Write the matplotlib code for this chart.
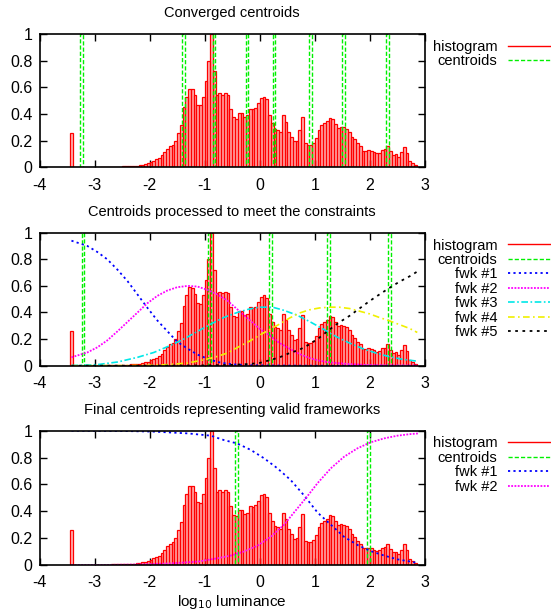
import matplotlib
matplotlib.use('Agg')
import matplotlib.pyplot as plt
from matplotlib.lines import Line2D
import numpy as np

plt.rcParams['font.family'] = ['Liberation Sans', 'DejaVu Sans']
plt.rcParams['axes.unicode_minus'] = False

# ---------------- data ----------------
titles = ["Converged centroids",
          "Centroids processed to meet the constraints",
          "Final centroids representing valid frameworks"]
x_ticks = [-4, -3, -2, -1, 0, 1, 2, 3]
x_tick_labels = ["-4", "-3", "-2", "-1", "0", "1", "2", "3"]
y_ticks = [0, 0.2, 0.4, 0.6, 0.8, 1.0]
y_tick_labels = ["0", "0.2", "0.4", "0.6", "0.8", "1"]

bin_width = 0.05
lone_bin_left = [-3.45]
lone_bin_val = [0.26]
bin_left = np.round(np.arange(-2.90, 2.849, bin_width), 2)
hist_vals = [
    0.002, 0.002, 0.003, 0.003, 0.004, 0.004, 0.005, 0.006, 0.007, 0.008,
    0.009, 0.010, 0.011, 0.013, 0.015, 0.020, 0.025, 0.030, 0.040, 0.050,
    0.060, 0.070, 0.090, 0.115, 0.140, 0.160, 0.170, 0.200, 0.260, 0.320,
    0.450, 0.530, 0.590, 0.585, 0.540, 0.470, 0.465, 0.530, 0.645, 0.800,
    1.000, 0.720, 0.545, 0.555, 0.545, 0.555, 0.545, 0.440, 0.375, 0.365,
    0.410, 0.410, 0.380, 0.390, 0.440, 0.435, 0.445, 0.480, 0.520, 0.530,
    0.510, 0.390, 0.330, 0.290, 0.280, 0.265, 0.390, 0.340, 0.265, 0.230,
    0.195, 0.200, 0.280, 0.380, 0.180, 0.170, 0.170, 0.185, 0.220, 0.280,
    0.315, 0.330, 0.345, 0.370, 0.365, 0.325, 0.295, 0.305, 0.300, 0.290,
    0.265, 0.230, 0.210, 0.180, 0.160, 0.125, 0.125, 0.130, 0.125, 0.115,
    0.105, 0.110, 0.130, 0.135, 0.160, 0.120, 0.095, 0.100, 0.080, 0.115,
    0.155, 0.110, 0.045, 0.030, 0.015]

centroids_1 = [-3.24, -1.39, -0.83, -0.23, 0.26, 0.92, 1.52, 2.32]
centroids_2 = [-3.21, -0.91, 0.20, 1.25, 2.35]
centroids_3 = [-0.42, 1.98]

# panel 2 frameworks
p2_fwk1_x = [-3.42, -3.13, -2.95, -2.77, -2.58, -2.40, -2.22, -2.04, -1.86, -1.68, -1.50,
             -1.31, -1.13, -0.95, -0.77, -0.59, -0.41, -0.19, 0.10, 0.50, 1.00, 1.50, 2.00, 2.50, 2.86]
p2_fwk1_y = [0.94, 0.90, 0.855, 0.80, 0.72, 0.635, 0.535, 0.435, 0.34, 0.26, 0.18,
             0.128, 0.083, 0.053, 0.028, 0.015, 0.008, 0.004, 0.002, 0.001, 0.0, 0.0, 0.0, 0.0, 0.0]
p2_fwk2_x = [-3.42, -3.13, -2.95, -2.77, -2.58, -2.40, -2.22, -2.04, -1.86, -1.68, -1.50,
             -1.31, -1.13, -0.95, -0.77, -0.59, -0.37, -0.19, -0.01, 0.17, 0.36, 0.54, 0.72,
             0.90, 1.08, 1.26, 1.63, 1.99, 2.40, 2.86]
p2_fwk2_y = [0.063, 0.10, 0.138, 0.19, 0.26, 0.33, 0.40, 0.47, 0.525, 0.565, 0.59,
             0.60, 0.595, 0.57, 0.535, 0.49, 0.41, 0.345, 0.28, 0.23, 0.17, 0.128, 0.088,
             0.058, 0.038, 0.025, 0.012, 0.005, 0.002, 0.001]
p2_fwk3_x = [-3.42, -3.26, -2.95, -2.58, -2.22, -1.92, -1.62, -1.38, -1.13, -0.89, -0.65,
             -0.41, -0.20, -0.01, 0.23, 0.41, 0.66, 0.90, 1.14, 1.38, 1.63, 1.87, 2.11,
             2.35, 2.59, 2.86]
p2_fwk3_y = [0.002, 0.003, 0.008, 0.028, 0.063, 0.10, 0.153, 0.20, 0.258, 0.313, 0.363,
             0.40, 0.425, 0.44, 0.44, 0.42, 0.383, 0.333, 0.278, 0.22, 0.17, 0.128, 0.095,
             0.068, 0.048, 0.034]
p2_fwk4_x = [-3.42, -2.50, -2.00, -1.68, -1.31, -0.95, -0.77, -0.59, -0.37, -0.19, -0.01,
             0.17, 0.36, 0.54, 0.72, 0.90, 1.08, 1.26, 1.44, 1.63, 1.81, 1.99, 2.17, 2.35,
             2.53, 2.72, 2.86]
p2_fwk4_y = [0.0, 0.001, 0.003, 0.008, 0.02, 0.05, 0.07, 0.095, 0.145, 0.183, 0.228,
             0.27, 0.313, 0.358, 0.396, 0.42, 0.434, 0.44, 0.44, 0.43, 0.41, 0.39, 0.363,
             0.338, 0.31, 0.28, 0.25]
p2_fwk5_x = [-3.42, -2.00, -1.00, -0.50, -0.19, -0.01, 0.17, 0.36, 0.54, 0.72, 0.90, 1.08,
             1.26, 1.44, 1.63, 1.81, 1.99, 2.17, 2.35, 2.53, 2.72, 2.86]
p2_fwk5_y = [0.0, 0.0, 0.002, 0.006, 0.013, 0.02, 0.04, 0.063, 0.095, 0.12, 0.16, 0.21,
             0.27, 0.325, 0.375, 0.43, 0.485, 0.535, 0.584, 0.63, 0.672, 0.708]

# panel 3 frameworks
p3_fwk1_x = [-3.42, -2.50, -1.92, -1.31, -0.89, -0.65, -0.41, -0.16, 0.08, 0.32, 0.56, 0.80,
             1.05, 1.29, 1.53, 1.77, 2.01, 2.26, 2.50, 2.74, 2.87]
p3_fwk1_y = [1.0, 0.998, 0.993, 0.98, 0.963, 0.93, 0.905, 0.856, 0.794, 0.72, 0.633, 0.52,
             0.39, 0.30, 0.21, 0.15, 0.104, 0.07, 0.042, 0.025, 0.015]
p3_fwk2_x = [-3.42, -2.83, -2.20, -1.62, -1.13, -0.77, -0.53, -0.29, -0.04, 0.20, 0.44, 0.68,
             0.86, 1.05, 1.29, 1.53, 1.77, 2.01, 2.26, 2.50, 2.74, 2.89]
p3_fwk2_y = [0.0, 0.0, 0.004, 0.012, 0.025, 0.05, 0.07, 0.10, 0.144, 0.21, 0.30, 0.42,
             0.51, 0.61, 0.72, 0.806, 0.868, 0.913, 0.943, 0.963, 0.975, 0.98]

# ---------------- styles ----------------
RED = '#ff0000'
GREEN = '#00f000'
fwk_styles = [
    dict(color='#0000ff', ls=(0, (1.2, 1.8)), lw=1.3),
    dict(color='#ff00ff', ls=(0, (1.0, 0.8)), lw=1.3),
    dict(color='#00e8e8', ls=(0, (4, 1.5, 1, 1.5)), lw=1.2),
    dict(color='#f0f000', ls=(0, (4, 2, 1, 2)), lw=1.2),
    dict(color='#000000', ls=(0, (1.5, 2.5)), lw=1.3),
]

W, H = 551, 614
fig = plt.figure(figsize=(W / 100, H / 100), dpi=100)

ax_left, ax_right = 39.5, 425.0
panels_px = [(34.0, 167.3), (232.7, 365.7), (430.7, 565.0)]
axes = []
for top, bot in panels_px:
    axes.append(fig.add_axes([ax_left / W, 1 - bot / H, (ax_right - ax_left) / W, (bot - top) / H]))


def draw_hist(ax):
    ax.bar(lone_bin_left, lone_bin_val, width=bin_width, align='edge',
           facecolor=(1, 0, 0, 0.3), edgecolor=RED, linewidth=0.9, zorder=2)
    ax.bar(bin_left, hist_vals, width=bin_width, align='edge',
           facecolor=(1, 0, 0, 0.3), edgecolor=RED, linewidth=0.9, zorder=2)


def draw_centroids(ax, cents):
    ax.bar(cents, [1.0] * len(cents), width=bin_width, align='center', fill=False,
           edgecolor=GREEN, linestyle=(0, (3, 1.5)), linewidth=1.0, zorder=3)


def style(ax, title):
    ax.set_xlim(-4, 3)
    ax.set_ylim(0, 1)
    ax.set_xticks(x_ticks)
    ax.set_xticklabels(x_tick_labels)
    ax.set_yticks(y_ticks)
    ax.set_yticklabels(y_tick_labels)
    ax.tick_params(direction='in', top=True, right=True, length=5, width=1.0,
                   labelsize=11.5, colors='black')
    ax.tick_params(axis='x', pad=7.5)
    ax.tick_params(axis='y', pad=5)
    for s in ax.spines.values():
        s.set_linewidth(1.2)
        s.set_zorder(5)
    ax.set_title(title, fontsize=10.5, pad=12)


# panel 1
ax = axes[0]
draw_hist(ax)
draw_centroids(ax, centroids_1)
style(ax, titles[0])

# panel 2
ax = axes[1]
draw_hist(ax)
draw_centroids(ax, centroids_2)
p2 = [(p2_fwk1_x, p2_fwk1_y), (p2_fwk2_x, p2_fwk2_y), (p2_fwk3_x, p2_fwk3_y),
      (p2_fwk4_x, p2_fwk4_y), (p2_fwk5_x, p2_fwk5_y)]
for k, (xs, ys) in enumerate(p2):
    st = fwk_styles[k]
    ax.plot(xs, ys, color=st['color'], ls=st['ls'], lw=st['lw'], zorder=4)
style(ax, titles[1])

# panel 3
ax = axes[2]
draw_hist(ax)
draw_centroids(ax, centroids_3)
p3 = [(p3_fwk1_x, p3_fwk1_y), (p3_fwk2_x, p3_fwk2_y)]
for k, (xs, ys) in enumerate(p3):
    st = fwk_styles[k]
    ax.plot(xs, ys, color=st['color'], ls=st['ls'], lw=st['lw'], zorder=4)
style(ax, titles[2])
ax.set_xlabel('log$_{10}$ luminance', fontsize=11, labelpad=2)

# legends (anchor top right, in figure coords)
legend_tops = [40.0, 238.5, 436.5]
for ax_i, n, top in zip(axes, [0, 5, 2], legend_tops):
    handles = [Line2D([], [], color=RED, lw=1.0),
               Line2D([], [], color=GREEN, lw=1.0, ls=(0, (3, 1.5)))]
    labels = ['histogram', 'centroids']
    for k in range(n):
        st = fwk_styles[k]
        handles.append(Line2D([], [], color=st['color'], ls=st['ls'], lw=st['lw']))
        labels.append('fwk #%d' % (k + 1))
    ax_i.legend(handles, labels, loc='upper right', bbox_to_anchor=(550 / W, 1 - top / H),
                bbox_transform=fig.transFigure, frameon=False, fontsize=10.5,
                markerfirst=False, handlelength=2.9, handletextpad=0.7,
                labelspacing=0.03, borderpad=0.0, borderaxespad=0.0)

fig.savefig('out.png', dpi=100)
